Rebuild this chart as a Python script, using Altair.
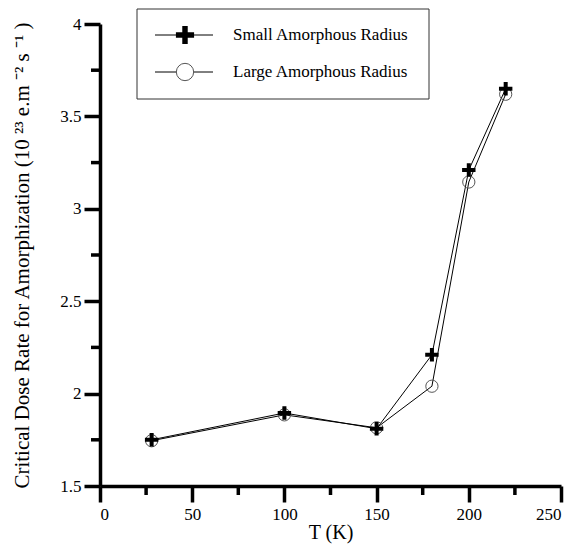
import altair as alt
import pandas as pd

temps = [28, 100, 150, 180, 200, 220]
small_radius = [1.75, 1.895, 1.81, 2.21, 3.21, 3.65]
large_radius = [1.745, 1.885, 1.815, 2.04, 3.145, 3.62]
x_major = [0, 50, 100, 150, 200, 250]
x_minor = [25, 75, 125, 175, 225]
y_major = [1.5, 2, 2.5, 3, 3.5, 4]
y_minor = [1.75, 2.25, 2.75, 3.25, 3.75]
series_names = ["Small Amorphous Radius", "Large Amorphous Radius"]
x_title = "T (K)"
y_title = "Critical Dose Rate for Amorphization (10 \u00b2\u00b3 e.m \u207b\u00b2 s \u207b\u00b9 )"

FONT = "Liberation Serif"
PLUS = "M-1,-0.3H-0.3V-1H0.3V-0.3H1V0.3H0.3V1H-0.3V0.3H-1Z"

df_small = pd.DataFrame({"T": temps, "rate": small_radius})
df_large = pd.DataFrame({"T": temps, "rate": large_radius})
df_xminor = pd.DataFrame({"T": x_minor})
df_yminor = pd.DataFrame({"rate": y_minor})

xscale = alt.Scale(domain=[0, 250], nice=False, zero=False)
yscale = alt.Scale(domain=[1.5, 4], nice=False, zero=False)

axis_style = dict(tickSize=16, tickWidth=3.5, tickColor="#000000", tickOpacity=1,
                  domainWidth=3.5, domainColor="#000000", domainOpacity=1,
                  grid=False, ticks=True, domain=True)
xaxis = alt.Axis(values=x_major, labelPadding=4, labelExpr="'' + datum.value",
                 title=x_title, titlePadding=0, titleFontSize=20, **axis_style)
yaxis = alt.Axis(values=y_major, labelPadding=3, labelExpr="'' + datum.value",
                 title=y_title, titlePadding=27, titleFontSize=21, **axis_style)

X = alt.X("T:Q", scale=xscale, axis=xaxis)
Y = alt.Y("rate:Q", scale=yscale, axis=yaxis)

line_large = alt.Chart(df_large).mark_line(color="black", strokeWidth=1).encode(x=X, y=Y)
line_small = alt.Chart(df_small).mark_line(color="black", strokeWidth=1).encode(x=X, y=Y)
pts_large = alt.Chart(df_large).mark_point(shape="circle", size=150, filled=False,
                                           stroke="#555555", strokeWidth=1, opacity=1).encode(x=X, y=Y)
pts_small = alt.Chart(df_small).mark_point(shape=PLUS, size=180, filled=True,
                                           color="black", opacity=1).encode(x=X, y=Y)
xminor = alt.Chart(df_xminor).mark_rule(color="#000000", strokeWidth=3.5, opacity=1).encode(
    x=X, y=alt.value(462), y2=alt.value(471),
)
yminor = alt.Chart(df_yminor).mark_rule(color="#000000", strokeWidth=3.5, opacity=1).encode(
    y=Y, x=alt.value(-9), x2=alt.value(0),
)

one = pd.DataFrame({"a": [0]})
legend_box = alt.Chart(one).mark_rect(
    fill="white", stroke="#333333", strokeWidth=1).encode(
    x=alt.value(37), x2=alt.value(329), y=alt.value(-15), y2=alt.value(75))
leg_line1 = alt.Chart(one).mark_rule(color="black", strokeWidth=1).encode(
    x=alt.value(55), x2=alt.value(113), y=alt.value(11))
leg_line2 = alt.Chart(one).mark_rule(color="black", strokeWidth=1).encode(
    x=alt.value(55), x2=alt.value(113), y=alt.value(48))
leg_plus = alt.Chart(one).mark_point(
    shape=PLUS, size=330, filled=True, color="black", opacity=1).encode(
    x=alt.value(85), y=alt.value(11))
leg_circ = alt.Chart(one).mark_point(
    shape="circle", size=300, filled=True, fill="white", stroke="#555555",
    strokeWidth=1, opacity=1).encode(x=alt.value(85), y=alt.value(48))
leg_t1 = alt.Chart(one).mark_text(
    align="left", baseline="middle", font=FONT, fontSize=17, color="black").encode(
    x=alt.value(133), y=alt.value(11), text=alt.value(series_names[0]))
leg_t2 = alt.Chart(one).mark_text(
    align="left", baseline="middle", font=FONT, fontSize=17, color="black").encode(
    x=alt.value(133), y=alt.value(48), text=alt.value(series_names[1]))

chart = alt.layer(
    line_large, line_small, pts_large, pts_small, xminor, yminor,
    legend_box, leg_line1, leg_line2, leg_plus, leg_circ, leg_t1, leg_t2,
).properties(
    width=461, height=462,
    background="white",
    autosize=alt.AutoSizeParams(type="none"),
    padding={"left": 92, "top": 16, "right": 9, "bottom": 58},
).configure_view(stroke=None).configure_axis(
    labelFont=FONT, labelFontSize=17, labelColor="black",
    titleFont=FONT, titleFontWeight="normal", titleColor="black",
)

chart.save("out.html", embed_options={"renderer": "svg", "actions": False})
